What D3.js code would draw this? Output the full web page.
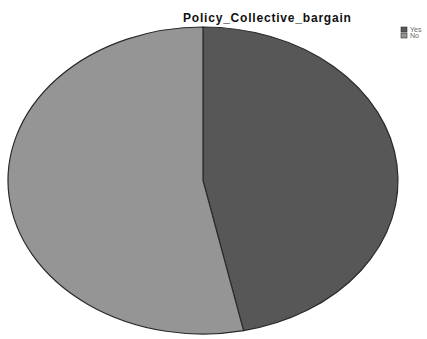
<!DOCTYPE html>
<html>
<head>
<meta charset="utf-8">
<script src="https://cdn.jsdelivr.net/npm/d3@7"></script>
<style>
  html, body { margin: 0; padding: 0; background: #fff; }
  svg { display: block; }
</style>
</head>
<body>
<svg id="chart" width="427" height="339"></svg>
<script>
// Survey responses for the collective bargaining policy question
const categories = ["Yes", "No"];
const counts = [7, 8];
const sliceColors = ["#575757", "#959595"];
const chartTitle = "Policy_Collective_bargain";

const svg = d3.select("#chart");

// Pie drawn as an ellipse (tilted look)
const cx = 203, cy = 180.5, rx = 195, ry = 153.5;

const data = categories.map((c, i) => ({ label: c, value: counts[i] }));
const pie = d3.pie().value(d => d.value).sort(null);
const arc = d3.arc().innerRadius(0).outerRadius(ry);
const color = d3.scaleOrdinal().domain(categories).range(sliceColors);

const g = svg.append("g")
  .attr("transform", `translate(${cx},${cy}) scale(${rx / ry},1)`);

g.selectAll("path")
  .data(pie(data))
  .join("path")
  .attr("d", arc)
  .attr("fill", d => color(d.data.label))
  .attr("stroke", "#2a2a2a")
  .attr("stroke-width", 1.2)
  .attr("vector-effect", "non-scaling-stroke");

// Title
svg.append("text")
  .attr("x", 183)
  .attr("y", 22)
  .attr("text-anchor", "start")
  .attr("font-family", "Liberation Sans, Arial, sans-serif")
  .attr("font-weight", "bold")
  .attr("font-size", 12)
  .attr("letter-spacing", 0.8)
  .attr("fill", "#111")
  .text(chartTitle);

// Legend
const legend = svg.append("g").attr("transform", "translate(401,27)");
const item = legend.selectAll("g")
  .data(categories)
  .join("g")
  .attr("transform", (d, i) => `translate(0,${i * 6})`);
item.append("rect")
  .attr("width", 6).attr("height", 5)
  .attr("fill", d => color(d))
  .attr("stroke", "#333").attr("stroke-width", 0.6);
item.append("text")
  .attr("x", 9).attr("y", 5)
  .attr("font-family", "Liberation Sans, Arial, sans-serif")
  .attr("font-size", 7)
  .attr("fill", "#666")
  .text(d => d);
</script>
</body>
</html>
